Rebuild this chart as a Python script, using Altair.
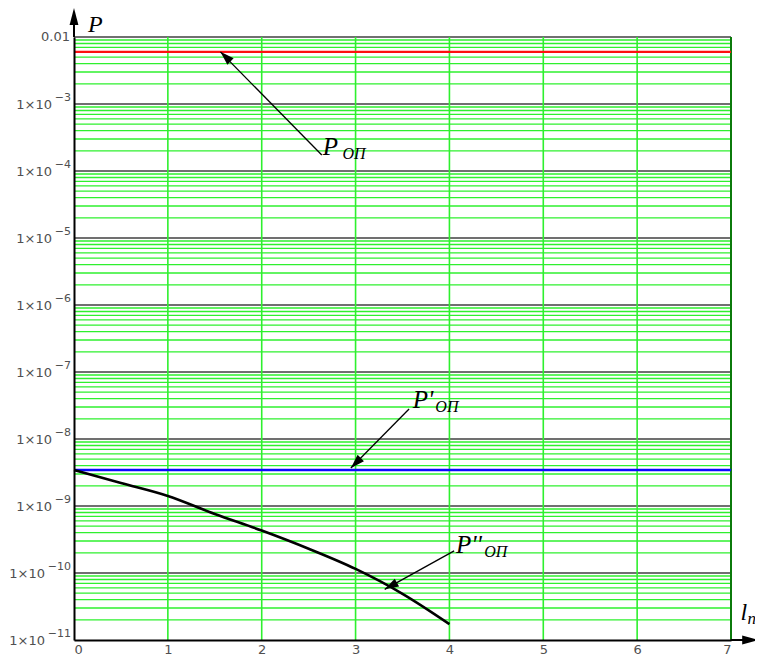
import altair as alt
import pandas as pd

# ---- data ----
x_curve = [0, 0.5, 1, 1.5, 2, 2.5, 3, 3.5, 4]
p2_curve = [3.45e-9, 2.2e-9, 1.41e-9, 7.6e-10, 4.3e-10, 2.3e-10, 1.15e-10, 4.9e-11, 1.73e-11]
p_op = 0.006          # P_OP  (red)
p1_op = 3.45e-9       # P'_OP (blue)
x_range = [0, 7]
x_ticks = [0, 1, 2, 3, 4, 5, 6, 7]
decade_exps = list(range(-11, -1))   # 1e-11 .. 1e-2
y_base = ["1×10"] * 9 + ["0.01"]
y_expo = ["−11", "−10", "−9", "−8", "−7", "−6", "−5", "−4", "−3", ""]

# annotations: label text, label position, arrow tail, arrow tip
ann_main = ["P", "P'", "P''"]
ann_sub = ["ОП", "ОП", "ОП"]
ann_x = [2.65, 3.61, 4.07]
ann_y = [1.73e-4, 2.9e-8, 2.0e-10]
ann_sub_x = [2.86, 3.85, 4.37]
tail_x = [2.64, 3.57, 4.05]
tail_y = [1.73e-4, 2.8e-8, 2.14e-10]
tip_x = [1.56, 2.95, 3.31]
tip_y = [0.006, 3.7e-9, 5.7e-11]
tip_angle = [314, 225, 241]

SERIF = "Times New Roman, Liberation Serif, serif"
LABEL_FONT = "DejaVu Sans"
LABEL_COLOR = "#505050"

X = alt.Scale(domain=x_range, nice=False, zero=False)
Y = alt.Scale(type="log", domain=[1e-11, 1e-2], nice=False)

# gridlines
minor = [m * 10.0 ** k for k in range(-11, -2) for m in range(2, 10)]
major = [10.0 ** k for k in decade_exps]
df_minor = pd.DataFrame({"y": minor})
df_major = pd.DataFrame({"y": major[1:]})
df_vert = pd.DataFrame({"x": x_ticks[1:-1]})
df_right = pd.DataFrame({"x": [x_ticks[-1]]})

minor_rules = alt.Chart(df_minor).mark_rule(color="#2ef02e", strokeWidth=1.4).encode(
    y=alt.Y("y:Q", scale=Y,
            axis=alt.Axis(values=major, labels=False, ticks=False, grid=False,
                          domainColor="black", domainWidth=2, title=None, zindex=1)),
)
major_rules = alt.Chart(df_major).mark_rule(color="#707070", strokeWidth=2).encode(
    y=alt.Y("y:Q", scale=Y)
)
vert_rules = alt.Chart(df_vert).mark_rule(color="#2ef02e", strokeWidth=1.6).encode(
    x=alt.X("x:Q", scale=X,
            axis=alt.Axis(values=x_ticks, ticks=False, grid=False, domainColor="black",
                          domainWidth=2, labelFont=LABEL_FONT, labelFontSize=13,
                          labelColor=LABEL_COLOR, labelPadding=3, title=None, zindex=1,
                          format="d"))
)
right_rule = alt.Chart(df_right).mark_rule(color="#0b7a0b", strokeWidth=2).encode(
    x=alt.X("x:Q", scale=X)
)

# y tick labels: base and raised exponent
df_yl = pd.DataFrame({"y": major, "base": y_base, "expo": y_expo,
                      "n": [len(e) for e in y_expo], "x": [0] * len(major)})
yl_common = dict(font=LABEL_FONT, fontSize=13, color=LABEL_COLOR, baseline="middle", clip=False)
yl_one = alt.Chart(df_yl).transform_filter("datum.n == 2").mark_text(
    align="right", dx=-22, dy=1, **yl_common).encode(
    x=alt.X("x:Q", scale=X), y=alt.Y("y:Q", scale=Y), text="base:N")
yl_two = alt.Chart(df_yl).transform_filter("datum.n == 3").mark_text(
    align="right", dx=-29, dy=1, **yl_common).encode(
    x=alt.X("x:Q", scale=X), y=alt.Y("y:Q", scale=Y), text="base:N")
yl_plain = alt.Chart(df_yl).transform_filter("datum.n == 0").mark_text(
    align="right", dx=-4, dy=0, **yl_common).encode(
    x=alt.X("x:Q", scale=X), y=alt.Y("y:Q", scale=Y), text="base:N")
yl_exp = alt.Chart(df_yl).transform_filter("datum.n > 0").mark_text(
    align="right", dx=-3, dy=-6, font=LABEL_FONT, fontSize=11, color=LABEL_COLOR,
    baseline="middle", clip=False).encode(
    x=alt.X("x:Q", scale=X), y=alt.Y("y:Q", scale=Y), text="expo:N")

df_h = pd.DataFrame({"x": [x_range[0]], "x2": [x_range[1]], "pop": [p_op], "p1": [p1_op]})
red = alt.Chart(df_h).mark_rule(color="#ff1010", strokeWidth=2.4).encode(
    x=alt.X("x:Q", scale=X), x2="x2:Q", y=alt.Y("pop:Q", scale=Y))
blue = alt.Chart(df_h).mark_rule(color="#0a0aff", strokeWidth=2.6).encode(
    x=alt.X("x:Q", scale=X), x2="x2:Q", y=alt.Y("p1:Q", scale=Y))

df_c = pd.DataFrame({"x": x_curve, "y": p2_curve})
curve = alt.Chart(df_c).mark_line(color="black", strokeWidth=2.6, interpolate="monotone").encode(
    x=alt.X("x:Q", scale=X), y=alt.Y("y:Q", scale=Y))

df_a = pd.DataFrame({"main": ann_main, "sub": ann_sub, "x": ann_x, "y": ann_y, "sx": ann_sub_x,
                     "tx": tail_x, "ty": tail_y, "hx": tip_x, "hy": tip_y, "ang": tip_angle})
arrows = alt.Chart(df_a).mark_rule(color="black", strokeWidth=1.3).encode(
    x=alt.X("tx:Q", scale=X), y=alt.Y("ty:Q", scale=Y), x2="hx:Q", y2="hy:Q")
heads = alt.Chart(df_a).mark_point(shape="M0,0L0.32,1L-0.32,1Z", filled=True, color="black",
                                   size=784, opacity=1, strokeWidth=0).encode(
    x=alt.X("hx:Q", scale=X), y=alt.Y("hy:Q", scale=Y), angle=alt.Angle("ang:Q", scale=None))
txt_main = alt.Chart(df_a).mark_text(font=SERIF, fontStyle="italic", fontSize=25,
                                     align="left", baseline="alphabetic", color="black").encode(
    x=alt.X("x:Q", scale=X), y=alt.Y("y:Q", scale=Y), text="main:N")
txt_sub = alt.Chart(df_a).mark_text(font=SERIF, fontStyle="italic", fontSize=16,
                                    align="left", baseline="alphabetic", dy=4, color="black").encode(
    x=alt.X("sx:Q", scale=X), y=alt.Y("y:Q", scale=Y), text="sub:N")

# axis arrows and axis titles
df_ax = pd.DataFrame({"x0": [0], "y0": [0.01], "y1": [0.022], "ya": [0.0271],
                      "xr0": [7], "xr1": [7.2], "xa": [7.3], "yb": [1e-11]})
yext = alt.Chart(df_ax).mark_rule(color="black", strokeWidth=2, clip=False).encode(
    x=alt.X("x0:Q", scale=X), y=alt.Y("y0:Q", scale=Y), y2="y1:Q")
yhead = alt.Chart(df_ax).mark_point(shape="M0,0L0.26,1L-0.26,1Z", filled=True, color="black",
                                    size=1156, opacity=1, strokeWidth=0, clip=False).encode(
    x=alt.X("x0:Q", scale=X), y=alt.Y("ya:Q", scale=Y))
xext = alt.Chart(df_ax).mark_rule(color="black", strokeWidth=2, clip=False).encode(
    x=alt.X("xr0:Q", scale=X), x2="xr1:Q", y=alt.Y("yb:Q", scale=Y))
xhead = alt.Chart(df_ax).mark_point(shape="M0,0L0.26,1L-0.26,1Z", filled=True, color="black",
                                    size=1156, opacity=1, strokeWidth=0, angle=90,
                                    clip=False).encode(
    x=alt.X("xa:Q", scale=X), y=alt.Y("yb:Q", scale=Y))

df_t = pd.DataFrame({"m": ["P", "l"], "s": ["", "n"], "x": [0.15, 7.1], "y": [0.0118, 2.0e-11],
                     "sx": [0.3, 7.175]})
tmain = alt.Chart(df_t).mark_text(font=SERIF, fontStyle="italic", fontSize=24,
                                  align="left", baseline="alphabetic", clip=False).encode(
    x=alt.X("x:Q", scale=X), y=alt.Y("y:Q", scale=Y), text="m:N")
tsub = alt.Chart(df_t).mark_text(font=SERIF, fontStyle="italic", fontSize=17,
                                 align="left", baseline="alphabetic", dy=4, clip=False).encode(
    x=alt.X("sx:Q", scale=X), y=alt.Y("y:Q", scale=Y), text="s:N")

chart = alt.layer(
    minor_rules, major_rules, vert_rules, right_rule, red, blue, curve,
    arrows, heads, txt_main, txt_sub, yext, yhead, xext, xhead, tmain, tsub,
    yl_one, yl_two, yl_plain, yl_exp
).properties(
    width=657, height=603,
    autosize=alt.AutoSizeParams(type="none"),
    padding={"left": 66, "top": 29, "right": 24, "bottom": 18},
).configure_view(stroke=None).configure(background="white")

chart.save("out.html", embed_options={"renderer": "svg", "actions": False})
